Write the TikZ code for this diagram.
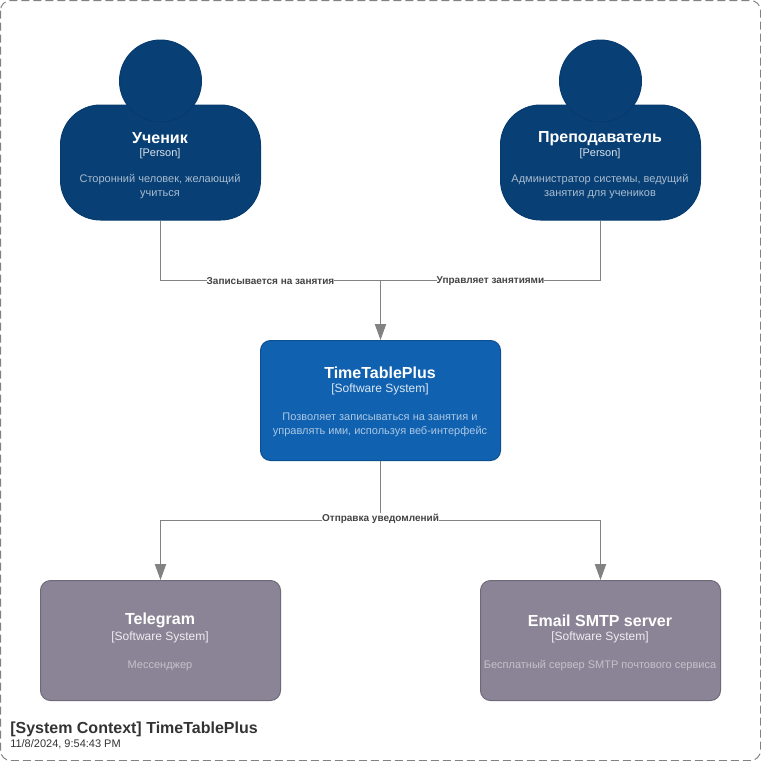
\documentclass[tikz,border=0pt]{standalone}
\usepackage{fontspec}
\setmainfont{Liberation Sans}
\usetikzlibrary{arrows.meta}
\definecolor{personfill}{HTML}{083F75}
\definecolor{personline}{HTML}{073B6F}
\definecolor{systemfill}{HTML}{1061B0}
\definecolor{systemline}{HTML}{0D5091}
\definecolor{extfill}{HTML}{8B8496}
\definecolor{extline}{HTML}{6F6A78}
\definecolor{relline}{HTML}{828282}
\definecolor{titletext}{HTML}{333333}
\definecolor{labeltext}{HTML}{444444}
\tikzset{
	box/.style={draw,line width=.75pt,inner sep=0pt,rounded corners=7.5pt,minimum width=180pt,minimum height=90pt},
	personbody/.style={box,fill=personfill,draw=personline,rounded corners=30pt,minimum width=150pt,minimum height=86.25pt},
	personhead/.style={circle,fill=personfill,draw=personline,line width=.75pt,inner sep=0pt,minimum size=61.5pt},
	systembox/.style={box,fill=systemfill,draw=systemline},
	extbox/.style={box,fill=extfill,draw=extline},
	boxname/.style={text=white,font=\bfseries\fontsize{12}{14}\selectfont,inner sep=0pt},
	boxtag/.style={text=white,text opacity=.85,font=\fontsize{9}{11}\selectfont,inner sep=0pt},
	persontag/.style={boxtag,font=\fontsize{8.25}{10}\selectfont},
	boxinfo/.style={text=white,text opacity=.65,font=\fontsize{8.25}{10.35}\selectfont,inner sep=0pt,align=center},
	extinfo/.style={boxinfo,text opacity=.5},
	rel/.style={draw=relline,line width=.75pt},
	reltip/.style={rel,-{Triangle[length=12pt,width=8.5pt,fill=relline]}},
	rellabel/.style={fill=white,text=labeltext,font=\bfseries\fontsize{7.5}{9}\selectfont,inner xsep=0pt,inner ysep=1pt}
}
\begin{document}
\begin{tikzpicture}[x=.75pt,y=-.75pt]
	\useasboundingbox (0,0) rectangle (761,761);
	\draw[relline,line width=.75pt,dash pattern=on 6pt off 3pt,rounded corners=7.5pt] (.5,.5) rectangle (760.5,760.5);

	% people
	\node[personbody] (student) at (160.5,162.5) {};
	\node[personhead] (studenthead) at (160.5,81) {};
	\node[boxname] (studentname) at (160,138.5) {Ученик};
	\node[persontag] (studenttag) at (160,153.5) {[Person]};
	\node[boxinfo] (studentinfo) at (160,186.5) {Сторонний человек, желающий\\учиться};

	\node[personbody] (teacher) at (600.5,162.5) {};
	\node[personhead] (teacherhead) at (600.5,81) {};
	\node[boxname] (teachername) at (600,138.5) {Преподаватель};
	\node[persontag] (teachertag) at (600,153.5) {[Person]};
	\node[boxinfo] (teacherinfo) at (600,186.5) {Администратор системы, ведущий\\занятия для учеников};

	% systems
	\node[systembox] (system) at (380.5,400.5) {};
	\node[boxname] (systemname) at (380,372.5) {TimeTablePlus};
	\node[boxtag] (systemtag) at (380,389.5) {[Software System]};
	\node[boxinfo] (systeminfo) at (380,424.5) {Позволяет записываться на занятия и\\управлять ими, используя веб-интерфейс};

	\node[extbox] (telegram) at (160.5,640.5) {};
	\node[boxname] (telegramname) at (160,620.5) {Telegram};
	\node[boxtag] (telegramtag) at (160,637) {[Software System]};
	\node[extinfo] (telegraminfo) at (160,665.5) {Мессенджер};

	\node[extbox] (smtp) at (600.5,640.5) {};
	\node[boxname] (smtpname) at (600,620.5) {Email SMTP server};
	\node[boxtag] (smtptag) at (600,637) {[Software System]};
	\node[extinfo] (smtpinfo) at (600,665.5) {Бесплатный сервер SMTP почтового сервиса};

	% connectors
	\coordinate (joinin) at (380.5,280.5);
	\coordinate (joinout) at (380.5,520.5);
	\draw[rel] (student.south) |- (joinin);
	\draw[rel] (teacher.south) |- (joinin);
	\draw[reltip] (joinin) -- (system.north);
	\draw[rel] (system.south) -- (joinout);
	\draw[reltip] (joinout) -| (telegram.north);
	\draw[reltip] (joinout) -| (smtp.north);

	\node[rellabel] (enrol) at (270.5,281) {Записывается на занятия};
	\node[rellabel] (manage) at (490.5,281) {Управляет занятиями};
	\node[rellabel] (notify) at (380.5,519) {Отправка уведомлений};

	% caption
	\node[anchor=west,inner sep=0pt,text=titletext,font=\bfseries\fontsize{12}{14}\selectfont] (title) at (10,729) {[System Context] TimeTablePlus};
	\node[anchor=west,inner sep=0pt,text=titletext,font=\fontsize{8.25}{10}\selectfont] (stamp) at (10,744) {11/8/2024, 9:54:43 PM};
\end{tikzpicture}
\end{document}
